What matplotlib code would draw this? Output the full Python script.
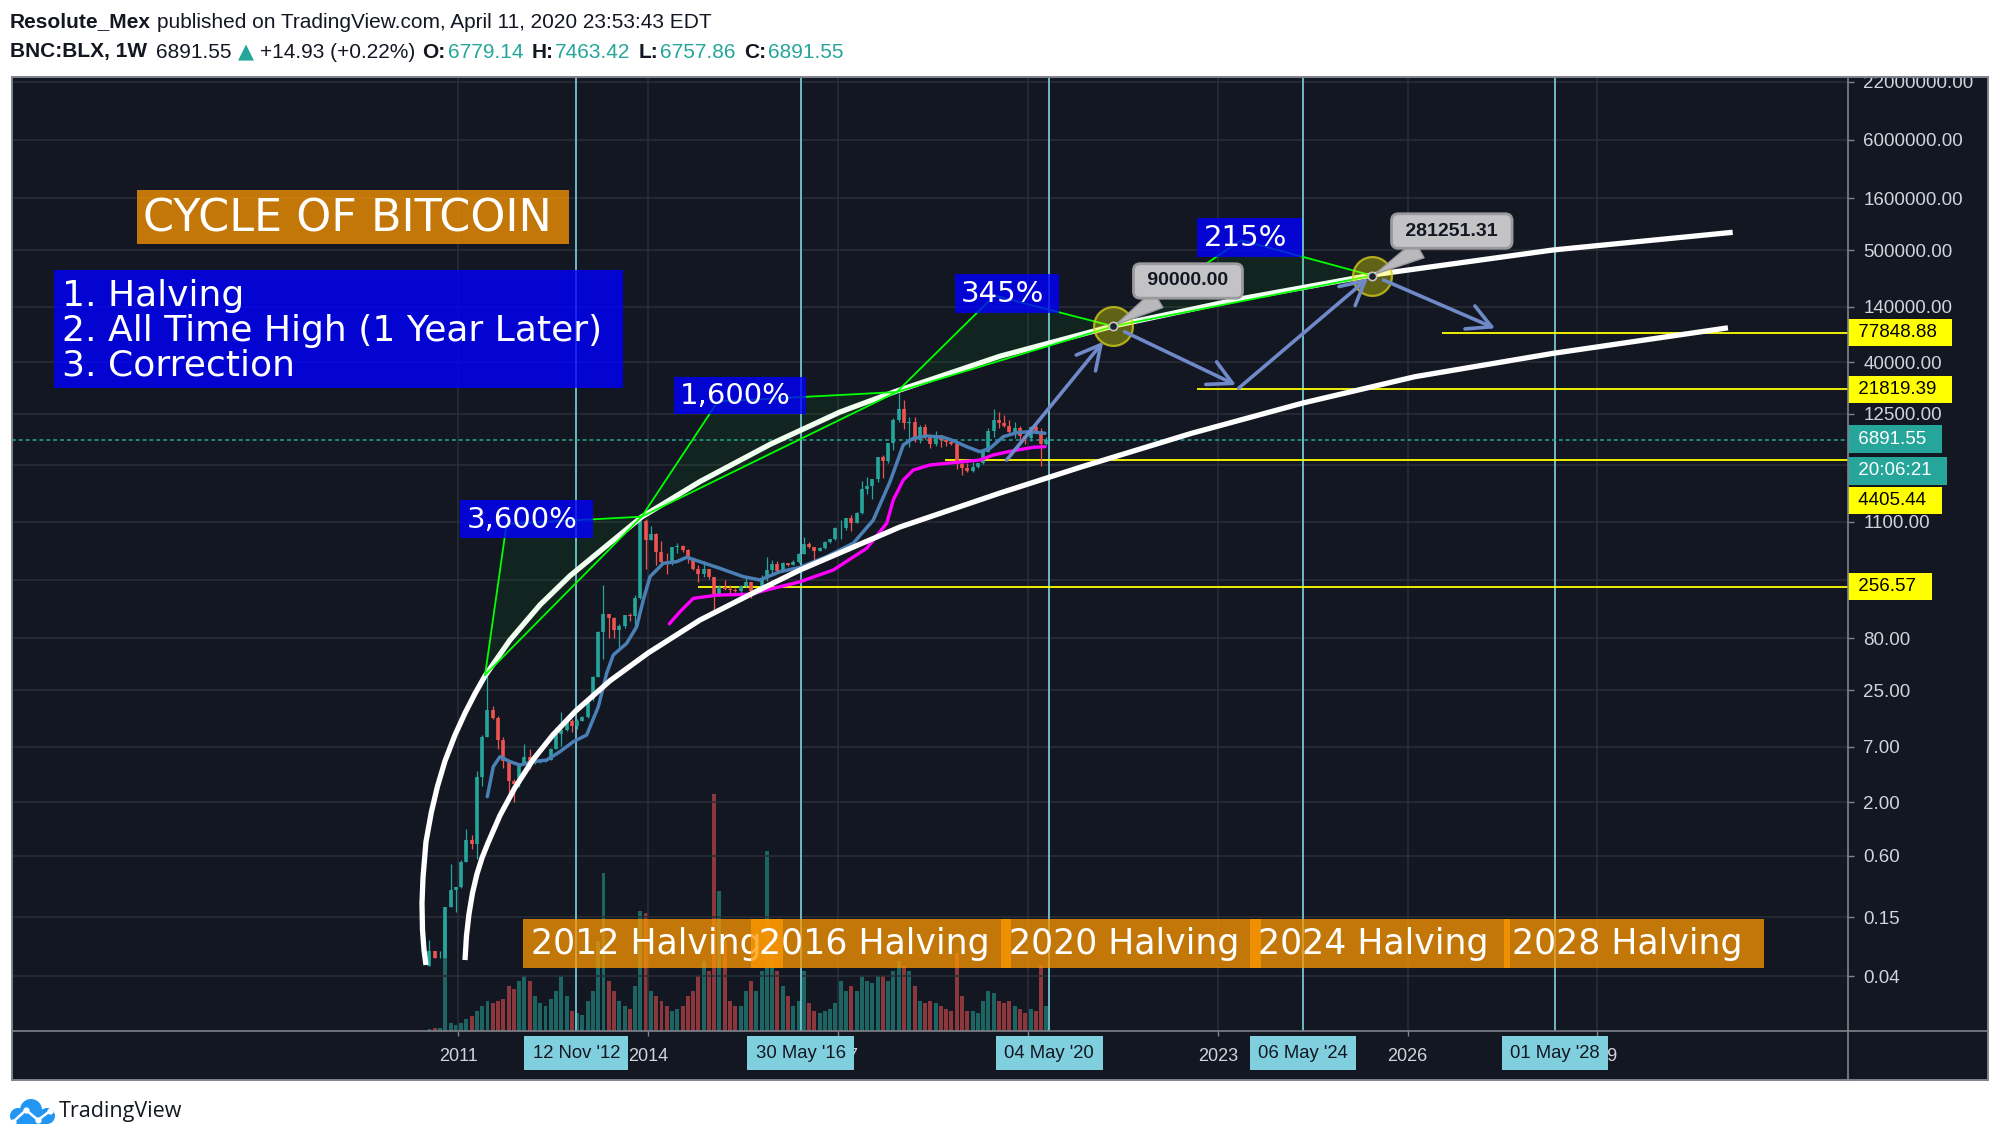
import numpy as np
import pandas as pd
import matplotlib
matplotlib.use("Agg")
import matplotlib.pyplot as plt
from matplotlib.patches import Rectangle, Circle
from matplotlib.lines import Line2D
from matplotlib.ticker import NullLocator

# ---------------- data ----------------
month_start = "2010-07"   # first monthly bar of BNC:BLX

opens = [0.05, 0.07, 0.06, 0.06, 0.19, 0.28,
         0.30, 0.52, 0.86, 0.78, 3.5, 8.7, 16.1, 13.4, 8.2, 5.1, 3.2, 3.0,
         4.7, 5.5, 4.9, 4.9, 5.0, 5.2, 6.7, 9.4, 10.2, 12.4, 11.2, 12.6,
         13.5, 20.4, 33.4, 93.0, 139, 128, 97, 106, 135, 132, 200, 1130,
         732, 830, 560, 450, 445, 630, 640, 585, 480, 385, 338, 378,
         320, 217, 254, 244, 236, 230, 263, 284, 230, 236, 314, 377,
         430, 368, 437, 416, 448, 531, 673, 624, 575, 609, 700, 745,
         964, 970, 1190, 1080, 1350, 2300, 2480, 2870, 4700, 4340, 6450, 10860,
         14100, 10200, 10400, 6900, 9250, 7500, 6400, 7750, 7000, 6620, 6350, 4020,
         3740, 3460, 3820, 4100, 5320, 8560, 10800, 10090, 9600, 8300, 9150, 7550,
         7200, 9350, 8540, 6420]
highs = [0.09, 0.07, 0.07, 0.19, 0.50, 0.30,
         0.55, 1.10, 0.95, 4.0, 9.0, 34.0, 17.5, 13.9, 8.6, 5.2, 3.4, 4.8,
         7.4, 6.6, 5.5, 5.3, 5.2, 6.8, 9.7, 15.4, 12.9, 12.9, 13.0, 14.0,
         21.0, 34.0, 95.0, 266, 139, 129, 111, 135, 143, 212, 1240, 1165,
         1000, 860, 710, 550, 630, 680, 650, 600, 490, 420, 460, 380,
         320, 265, 300, 264, 247, 267, 315, 285, 245, 335, 500, 470,
         460, 445, 440, 466, 550, 780, 703, 625, 620, 720, 755, 980,
         1160, 1200, 1300, 1380, 2790, 3000, 2920, 4760, 5000, 6500, 11400, 20000,
         17200, 11800, 11700, 9700, 10000, 7750, 8500, 7750, 7400, 7000, 6600, 4250,
         4100, 4200, 4150, 5600, 9100, 13900, 13200, 12300, 10900, 10400, 9500, 7750,
         9600, 10500, 9200, 7470]
lows = [0.05, 0.06, 0.06, 0.06, 0.19, 0.17,
        0.29, 0.52, 0.70, 0.56, 2.9, 8.7, 12.9, 6.7, 4.3, 2.2, 2.0, 2.8,
        4.7, 4.2, 4.7, 4.8, 4.9, 5.2, 6.6, 7.1, 10.0, 9.8, 10.4, 12.4,
        13.2, 19.5, 33.3, 50, 80, 80, 66, 100, 118, 102, 195, 380,
        730, 420, 440, 340, 420, 550, 560, 440, 370, 285, 320, 305,
        152, 210, 240, 213, 226, 219, 253, 198, 225, 236, 290, 350,
        355, 366, 405, 414, 440, 531, 610, 470, 570, 605, 680, 740,
        750, 920, 900, 1065, 1330, 2080, 1840, 2680, 2950, 4150, 5500, 10400,
        9000, 5900, 6600, 6500, 7050, 5750, 6100, 5900, 6100, 6200, 3650, 3150,
        3350, 3380, 3680, 4080, 5300, 7450, 9100, 9400, 7700, 7300, 6500, 6430,
        6860, 8450, 3850, 6150]
closes = [0.07, 0.06, 0.06, 0.19, 0.28, 0.30,
          0.52, 0.86, 0.78, 3.5, 8.7, 16.1, 13.4, 8.2, 5.1, 3.2, 3.0, 4.7,
          5.5, 4.9, 4.9, 5.0, 5.2, 6.7, 9.4, 10.2, 12.4, 11.2, 12.6, 13.5,
          20.4, 33.4, 93.0, 139, 128, 97, 106, 135, 132, 200, 1130, 732,
          830, 560, 450, 445, 630, 640, 585, 480, 385, 338, 378, 320,
          217, 254, 244, 236, 230, 263, 284, 230, 236, 314, 377, 430,
          368, 437, 416, 448, 531, 673, 624, 575, 609, 700, 745, 964,
          970, 1190, 1080, 1350, 2300, 2480, 2870, 4700, 4340, 6450, 10860, 14100,
          10200, 10400, 6900, 9250, 7500, 6400, 7750, 7000, 6620, 6350, 4020, 3740,
          3460, 3820, 4100, 5320, 8560, 10800, 10090, 9600, 8300, 9150, 7550, 7200,
          9350, 8540, 6420, 6891.55]
# relative volume (bar heights)
volume = [2, 3, 3, 110, 8, 6,
          8, 12, 15, 20, 25, 30, 28, 30, 32, 45, 42, 50,
          55, 50, 35, 28, 25, 32, 40, 55, 35, 20, 18, 16,
          30, 40, 90, 158, 50, 40, 30, 25, 22, 45, 120, 118,
          40, 35, 30, 25, 20, 22, 25, 35, 40, 55, 70, 60,
          237, 140, 90, 30, 25, 25, 40, 50, 40, 60, 180, 80,
          60, 45, 35, 25, 30, 60, 28, 20, 18, 20, 22, 28,
          50, 40, 45, 40, 55, 50, 48, 55, 55, 50, 60, 70,
          65, 60, 45, 30, 28, 30, 28, 25, 22, 20, 78, 35,
          20, 20, 18, 30, 40, 38, 30, 28, 30, 25, 22, 18,
          22, 20, 65, 25]

# moving averages (decimal year, price)
ma_fast_year = [2011.455, 2011.55, 2011.656, 2011.814, 2011.972, 2012.182, 2012.394, 2012.604,
                2012.814, 2013.026, 2013.210, 2013.342, 2013.447, 2013.658, 2013.816, 2013.921,
                2014.027, 2014.237, 2014.449, 2014.607, 2014.817, 2015.133, 2015.501, 2015.765,
                2016.081, 2016.397, 2016.819, 2017.240, 2017.556, 2017.820, 2017.926, 2018.030,
                2018.188, 2018.400, 2018.662, 2018.821, 2019.032, 2019.242, 2019.400, 2019.611,
                2019.823, 2020.033, 2020.270]
ma_fast_price = [2.27, 4.46, 5.58, 4.99, 4.62, 4.99, 5.18, 6.25, 7.82, 9.10, 17.2, 36.5, 55.1,
                 71.6, 104, 190, 321, 434, 450, 497, 450, 387, 321, 298, 359, 396, 504, 681,
                 1148, 2723, 4121, 6223, 7228, 7621, 7396, 6855, 5984, 5346, 5768, 7499,
                 8204, 8395, 8091]
ma_slow_year = [2014.332, 2014.501, 2014.711, 2015.081, 2015.607, 2015.871, 2016.397, 2016.924,
                2017.452, 2017.768, 2017.872, 2018.030, 2018.188, 2018.452, 2018.820, 2019.242,
                2019.452, 2019.768, 2020.085, 2020.270]
ma_slow_price = [111, 146, 197, 212, 216, 238, 286, 373, 608, 1067, 1803, 2825, 3540, 3963,
                 4178, 4436, 4966, 5470, 5902, 5984]

# hand drawn arcs (decimal year, price)
upper_arc_year = [2010.486, 2010.455, 2010.431, 2010.423, 2010.439, 2010.486, 2010.572, 2010.667,
                  2010.787, 2010.945, 2011.103, 2011.261, 2011.419, 2011.814, 2012.288, 2012.762,
                  2013.315, 2013.895, 2014.817, 2015.923, 2017.030, 2017.926, 2019.561, 2021.345,
                  2023.352, 2025.438, 2028.298, 2031.139]
upper_arc_price = [0.0514, 0.0719, 0.113, 0.207, 0.366, 0.822, 1.61, 2.85, 5.07, 9.10, 14.9, 23.1,
                   34.4, 77.1, 170, 327, 625, 1230, 2729, 6295, 13060, 20950, 45920, 90570,
                   166300, 285300, 501000, 746000]
lower_arc_year = [2011.103, 2011.126, 2011.166, 2011.221, 2011.292, 2011.371, 2011.466, 2011.656,
                  2011.893, 2012.177, 2012.494, 2012.852, 2013.394, 2013.995, 2014.817, 2015.655,
                  2016.397, 2017.188, 2017.978, 2019.559, 2020.823, 2022.587, 2024.347, 2026.114,
                  2028.298, 2031.064]
lower_arc_price = [0.0574, 0.0986, 0.162, 0.259, 0.398, 0.570, 0.800, 1.49, 2.78, 5.20, 9.14, 15.6,
                   30.8, 57.5, 121, 222, 373, 605, 982, 2109, 3760, 8091, 16000, 28900, 48900,
                   86900]

halving_dates = ["2012-11-12", "2016-05-30", "2020-05-04", "2024-05-06", "2028-05-01"]
halving_tags = ["12 Nov '12", "30 May '16", "04 May '20", "06 May '24", "01 May '28"]
halving_titles = ["2012 Halving", "2016 Halving", "2020 Halving", "2024 Halving", "2028 Halving"]
halving_box_left = [2012.02, 2015.62, 2019.57, 2023.51, 2027.52]
halving_box_span = 4.11
halving_box_price = (0.048, 0.1445)

level_values = [77848.88, 21819.39, 4405.44, 256.57]
level_start = [2026.55, 2022.67, 2018.69, 2014.79]
last_close = 6891.55

pct_labels = ["3,600%", "1,600%", "345%", "215%"]
pct_box = [(2011.024, 2013.121, 767, 1803), (2014.407, 2016.489, 12400, 28900),
           (2018.847, 2020.496, 122200, 291700), (2022.678, 2024.336, 430500, 1023000)]
tri_start = [(2011.42, 35.1), (2013.895, 1239), (2017.926, 20500), (2021.35, 90000)]
tri_anchor = [(2011.76, 1050), (2015.10, 16560), (2019.47, 179500), (2023.37, 625000)]
tri_end = [(2013.895, 1239), (2017.926, 20500), (2021.35, 90000), (2025.444, 281251.31)]

targets = [("90000.00", 2021.35, 90000, 2022.53, 249500),
           ("281251.31", 2025.444, 281251.31, 2026.70, 767800)]
arrow_tail = [(2019.664, 4436), (2021.528, 79600), (2023.33, 22300), (2025.621, 255000)]
arrow_tip = [(2021.191, 63600), (2023.289, 23990), (2025.375, 265000), (2027.385, 85900)]

cycle_box = (2005.911, 2012.746, 578000, 1.93e6)
steps_box = (2004.607, 2013.595, 22440, 319200)
steps_text = ["1. Halving", "2. All Time High (1 Year Later)", "3. Correction"]
steps_price = [188800, 85900, 39600]

ytick_vals = [22000000, 6000000, 1600000, 500000, 140000, 40000, 12500, 4000, 1100, 300,
              80, 25, 7, 2, 0.6, 0.15, 0.04]
ytick_hidden = [4000, 300]          # covered by price tags in the reference
year_ticks = [2011, 2014, 2017, 2020, 2023, 2026, 2029]
year_hidden = [2020]                # covered by the 04 May '20 tag

# ---------------- style ----------------
W, H, DPI = 2000, 1144, 100
BG = '#131722'
GRID = '#2a2e39'
UP, DN = '#26a69a', '#ef5350'
CYAN = '#7fd3e3'
ORANGE = '#ff9800'
GREEN = '#00ff00'
ARROW = '#6f89c9'
AXIS_TXT = '#d1d4dc'
FRAME = '#80838b'
DARK = '#131722'

plt.rcParams['font.family'] = ['Liberation Sans', 'DejaVu Sans']


def fx(p):
    return p / W


def fy(p):
    return 1 - p / H


def dec_year(s):
    t = pd.Timestamp(s)
    a = pd.Timestamp(year=t.year, month=1, day=1)
    b = pd.Timestamp(year=t.year + 1, month=1, day=1)
    return t.year + (t - a) / (b - a)


fig = plt.figure(figsize=(W / DPI, H / DPI), dpi=DPI)
fig.patch.set_facecolor('white')
fig.add_artist(Rectangle((fx(11.5), fy(1080)), fx(1988) - fx(11.5), fy(77) - fy(1080),
                         transform=fig.transFigure, fc=BG, ec='none', zorder=-5))

pos = [fx(11.5), fy(1031), fx(1848) - fx(11.5), fy(77) - fy(1031)]
vax = fig.add_axes(pos, zorder=0, label='vol')
ax = fig.add_axes(pos, zorder=1, label='price')
XLIM = (2003.935, 2032.962)
for a in (vax, ax):
    a.set_facecolor('none')
    a.set_xlim(*XLIM)
    for s in a.spines.values():
        s.set_visible(False)

# ---- volume overlay ----
months = pd.period_range(month_start, periods=len(closes), freq='M')
mx = np.asarray(months.year + (months.month - 0.5) / 12.0, dtype=float)
o, h, l, c = map(np.asarray, (opens, highs, lows, closes))
cols = np.where(c >= o, UP, DN)
vax.bar(mx, volume, width=0.75 / 12, color=cols, alpha=0.55, linewidth=0)
vax.set_ylim(0, 954)
vax.axis('off')

# ---- price pane ----
ax.set_yscale('log')
ax.set_ylim(0.01162, 2.46e7)
ax.set_axisbelow(True)
ax.set_yticks(ytick_vals)
ax.set_yticklabels(["" if v in ytick_hidden else f"{v:.2f}" for v in ytick_vals])
ax.yaxis.set_minor_locator(NullLocator())
ax.set_xticks(year_ticks)
ax.set_xticklabels(["" if y in year_hidden else str(y) for y in year_ticks])
ax.grid(True, color=GRID, lw=1.1)
ax.tick_params(axis='y', direction='out', length=4, width=1, color=FRAME, labelsize=13.5,
               labelcolor=AXIS_TXT, left=False, right=True, labelleft=False, labelright=True, pad=7)
ax.tick_params(axis='x', direction='out', length=3.5, width=1, color=FRAME, labelsize=13,
               labelcolor=AXIS_TXT, pad=9)

# halving verticals
hx = [dec_year(d) for d in halving_dates]
for x in hx:
    ax.axvline(x, color=CYAN, lw=1.2, zorder=2)

# levels
for v, x0 in zip(level_values, level_start):
    ax.hlines(v, x0, XLIM[1], color='#ffff00', lw=1.3, zorder=2)
ax.axhline(last_close, color=UP, lw=1.1, ls=(0, (2.5, 2)), zorder=2)

# candles
ax.vlines(mx, l, h, colors=cols, lw=0.9, zorder=3)
ax.vlines(mx, np.minimum(o, c), np.maximum(o, c), colors=cols, lw=2.6, zorder=3)

# moving averages
ax.plot(ma_fast_year, ma_fast_price, color='#4a80b6', lw=2.5, zorder=4,
        solid_capstyle='round', solid_joinstyle='round')
ax.plot(ma_slow_year, ma_slow_price, color='#ff00ff', lw=2.4, zorder=4,
        solid_capstyle='round', solid_joinstyle='round')

# arcs
for xs, ps in ((upper_arc_year, upper_arc_price), (lower_arc_year, lower_arc_price)):
    ax.plot(xs, ps, color='white', lw=3.8, zorder=5, solid_capstyle='butt', solid_joinstyle='round')

# percentage triangles
for s, m, e in zip(tri_start, tri_anchor, tri_end):
    xs = [s[0], m[0], e[0]]
    ps = [s[1], m[1], e[1]]
    ax.fill(xs, ps, color=GREEN, alpha=0.06, lw=0, zorder=5.5)
    ax.plot(xs + [s[0]], ps + [s[1]], color=GREEN, lw=1.3, zorder=6)

# target circles
for _, tx, tp, _, _ in targets:
    ax.plot([tx], [tp], 'o', ms=28, mfc=(1, 1, 0, 0.33), mec=(0.85, 0.82, 0.1, 0.75), mew=1.6, zorder=7)

# arrows
for (x0, p0), (x1, p1) in zip(arrow_tail, arrow_tip):
    ax.annotate('', xy=(x1, p1), xytext=(x0, p0),
                arrowprops=dict(arrowstyle='->,head_length=0.85,head_width=0.45', color=ARROW,
                                lw=2.6, mutation_scale=20, shrinkA=0, shrinkB=0), zorder=8)

# callout labels
for txt, tx, tp, lx, lp in targets:
    ax.annotate(f" {txt} ", xy=(tx, tp), xytext=(lx, lp), ha='center', va='center',
                fontsize=14, fontweight='bold', color=DARK, zorder=11,
                bbox=dict(boxstyle='round,pad=0.45,rounding_size=0.35', fc='#c3c3c6', ec='#9a9a9e', lw=2),
                arrowprops=dict(arrowstyle='wedge,tail_width=0.7,shrink_factor=0.5', fc='#b9b9bc',
                                ec='#9a9a9e', lw=1, mutation_scale=20, shrinkA=0, shrinkB=2))
    ax.plot([tx], [tp], 'o', ms=6, mfc='#1e222d', mec='#c3c3c6', mew=1.2, zorder=12)

# percentage boxes
for lab, (x0, x1, p0, p1) in zip(pct_labels, pct_box):
    ax.add_patch(Rectangle((x0, p0), x1 - x0, p1 - p0, fc='#0000ff', alpha=0.8, ec='none', zorder=9))
    ax.annotate(lab, xy=(x0, np.sqrt(p0 * p1)), xytext=(4.5, -0.5), textcoords='offset points',
                ha='left', va='center', color='white', fontsize=21, family='DejaVu Sans', zorder=9.5)

# title boxes
x0, x1, p0, p1 = cycle_box
ax.add_patch(Rectangle((x0, p0), x1 - x0, p1 - p0, fc=ORANGE, alpha=0.75, ec='none', zorder=9))
ax.annotate("CYCLE OF BITCOIN", xy=(x0, np.sqrt(p0 * p1)), xytext=(5, -1.5), textcoords='offset points',
            ha='left', va='center', color='white', fontsize=32, family='DejaVu Sans', zorder=9.5)
x0, x1, p0, p1 = steps_box
ax.add_patch(Rectangle((x0, p0), x1 - x0, p1 - p0, fc='#0000ff', alpha=0.8, ec='none', zorder=9))
for t, p in zip(steps_text, steps_price):
    ax.annotate(t, xy=(x0, p), xytext=(6, -2), textcoords='offset points', ha='left', va='center',
                color='white', fontsize=26, family='DejaVu Sans', zorder=9.5)

# halving boxes
p0, p1 = halving_box_price
for i, (x0, t) in enumerate(zip(halving_box_left, halving_titles)):
    ax.add_patch(Rectangle((x0, p0), halving_box_span, p1 - p0, fc=ORANGE, alpha=0.75, ec='none',
                           zorder=10 + 0.2 * i))
    ax.annotate(t, xy=(x0, np.sqrt(p0 * p1)), xytext=(6, -0.5), textcoords='offset points',
                ha='left', va='center', color='white', fontsize=25, family='DejaVu Sans',
                zorder=10.1 + 0.2 * i)

# date tags on the time axis
for x, t in zip(hx, halving_tags):
    ax.annotate(t, xy=(x, 0), xycoords=('data', 'axes fraction'), xytext=(0, -16),
                textcoords='offset points', ha='center', va='center', fontsize=13.3, color=DARK,
                annotation_clip=False, zorder=12,
                bbox=dict(boxstyle='square,pad=0.45', fc='#80cfde', ec='none'))


# price tags on the right scale
def axis_tag(value, text, fc, tc, dy=0.0):
    ax.annotate(f" {text}  ", xy=(1, value), xycoords=('axes fraction', 'data'), xytext=(3.6, dy),
                textcoords='offset points', ha='left', va='center', fontsize=13.5, color=tc,
                annotation_clip=False, zorder=12,
                bbox=dict(boxstyle='square,pad=0.27', fc=fc, ec='none'))


axis_tag(77848.88, "77848.88", '#ffff00', 'black')
axis_tag(21819.39, "21819.39", '#ffff00', 'black')
axis_tag(last_close, "6891.55", UP, 'white', dy=1)
axis_tag(last_close, "20:06:21", UP, 'white', dy=-22)
axis_tag(4405.44, "4405.44", '#ffff00', 'black', dy=-29)
axis_tag(256.57, "256.57", '#ffff00', 'black')

# ---- frame ----
fig.add_artist(Rectangle((0, fy(77)), 1, 1 - fy(77), transform=fig.transFigure, fc='white',
                         ec='none', zorder=4))
fig.add_artist(Rectangle((fx(11.5), fy(1080)), fx(1988) - fx(11.5), fy(77) - fy(1080),
                         transform=fig.transFigure, fc='none', ec=FRAME, lw=1.4, zorder=6))
fig.add_artist(Line2D([fx(1848), fx(1848)], [fy(77), fy(1080)], transform=fig.transFigure,
                      color=FRAME, lw=1.2, zorder=6))
fig.add_artist(Line2D([fx(11.5), fx(1988)], [fy(1031), fy(1031)], transform=fig.transFigure,
                      color=FRAME, lw=1.2, zorder=6))

# ---- header: pieces laid out one after another ----
renderer = fig.canvas.get_renderer()


def header_line(pieces, y_px, start_px, size=15):
    x = start_px
    for t, wgt, col, gap in pieces:
        fam = ['DejaVu Sans'] if t == "\u25B2" else ['Liberation Sans', 'DejaVu Sans']
        txt = fig.text(fx(x), fy(y_px), t, fontsize=size, fontweight=wgt, color=col, va='center',
                       family=fam, zorder=7)
        x += txt.get_window_extent(renderer).width + gap


header_line([("Resolute_Mex", 'bold', DARK, 6),
             ("published on TradingView.com, April 11, 2020 23:53:43 EDT", 'normal', DARK, 0)], 22, 10)
header_line([("BNC:BLX, 1W", 'bold', DARK, 9), ("6891.55", 'normal', DARK, 7),
             ("\u25B2", 'normal', UP, 6), ("+14.93 (+0.22%)", 'normal', DARK, 7),
             ("O:", 'bold', DARK, 2), ("6779.14", 'normal', UP, 8),
             ("H:", 'bold', DARK, 2), ("7463.42", 'normal', UP, 8),
             ("L:", 'bold', DARK, 2), ("6757.86", 'normal', UP, 8),
             ("C:", 'bold', DARK, 2), ("6891.55", 'normal', UP, 0)], 52, 9.6)

# ---- footer logo ----
lax = fig.add_axes([fx(10), fy(1126), 46 / W, 28 / H], label='logo')
lax.set_xlim(0, 46)
lax.set_ylim(0, 28)
lax.axis('off')
LOGO = '#2196f3'
for cx, cy, r in [(8, 10, 8), (21, 16, 11), (37, 10, 8)]:
    lax.add_patch(Circle((cx, cy), r, fc=LOGO, ec='none'))
lax.add_patch(Rectangle((8, 2), 29, 10, fc=LOGO, ec='none'))
lax.plot([3, 16, 28, 40], [4, 16, 6, 15], color='white', lw=1.8, marker='o', ms=3.5,
         mfc='white', mec='white')
fig.text(fx(59), fy(1112), "TradingView", fontsize=15.5, color=DARK, va='center',
         family=['Open Sans', 'DejaVu Sans'])

fig.savefig("out.png", dpi=DPI, facecolor='white')
